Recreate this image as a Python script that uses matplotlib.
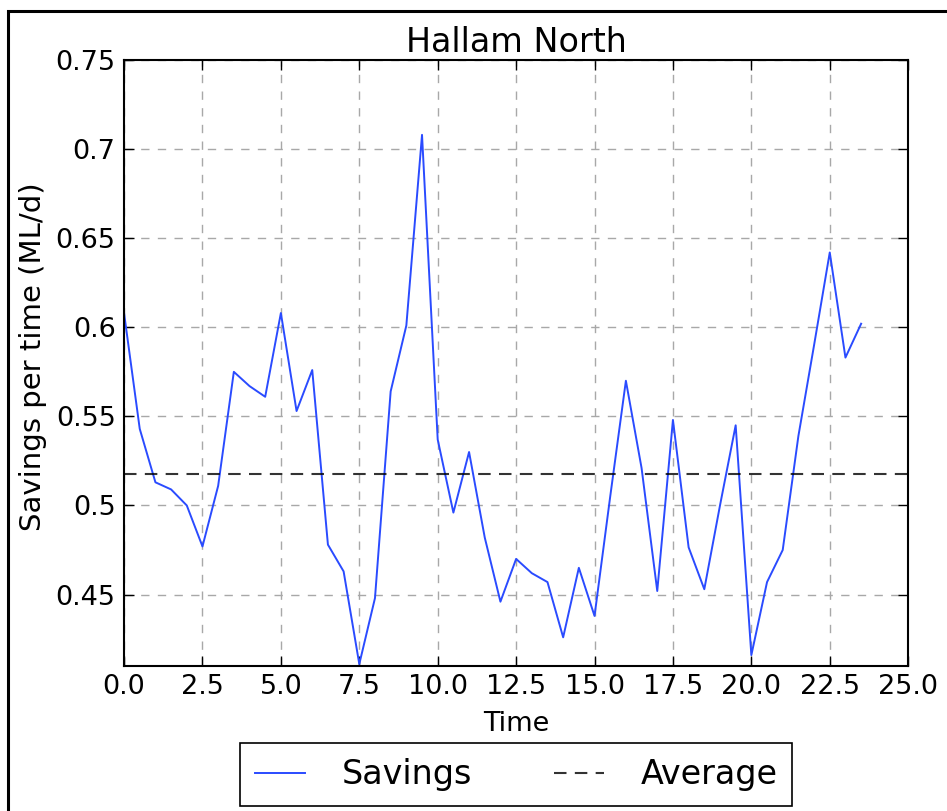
import numpy as np
import matplotlib
matplotlib.use("Agg")
import matplotlib.pyplot as plt
from matplotlib.ticker import MultipleLocator, FuncFormatter
from matplotlib.patches import Rectangle

# half-hourly savings for Hallam North
time_hours = [0.0, 0.5, 1.0, 1.5, 2.0, 2.5, 3.0, 3.5, 4.0, 4.5, 5.0, 5.5,
              6.0, 6.5, 7.0, 7.5, 8.0, 8.5, 9.0, 9.5, 10.0, 10.5, 11.0, 11.5,
              12.0, 12.5, 13.0, 13.5, 14.0, 14.5, 15.0, 15.5, 16.0, 16.5, 17.0, 17.5,
              18.0, 18.5, 19.0, 19.5, 20.0, 20.5, 21.0, 21.5, 22.0, 22.5, 23.0, 23.5]
savings = [0.608, 0.543, 0.513, 0.509, 0.500, 0.477, 0.511, 0.575, 0.567, 0.561, 0.608, 0.553,
           0.576, 0.478, 0.463, 0.411, 0.448, 0.564, 0.601, 0.708, 0.537, 0.496, 0.530, 0.482,
           0.446, 0.470, 0.462, 0.457, 0.426, 0.465, 0.438, 0.505, 0.570, 0.521, 0.452, 0.548,
           0.4765, 0.453, 0.500, 0.545, 0.416, 0.457, 0.475, 0.539, 0.590, 0.642, 0.583, 0.602]
station = "Hallam North"

average = np.mean(savings)

fig = plt.figure(figsize=(9.47, 8.11), dpi=100)
ax = fig.add_axes([0.131, 0.179, 0.828, 0.747])

ax.plot(time_hours, savings, color="#2a4bff", linewidth=1.4, label="Savings")
ax.axhline(average, color="k", linestyle="--", dashes=(6, 4), linewidth=1.5, alpha=0.8, label="Average")

ax.set_xlim(0, 25)
ax.set_ylim(0.41, 0.75)
ax.xaxis.set_major_locator(MultipleLocator(2.5))
ax.yaxis.set_major_locator(MultipleLocator(0.05))
ax.xaxis.set_major_formatter(FuncFormatter(lambda v, _: f"{v:.1f}"))
ax.yaxis.set_major_formatter(FuncFormatter(lambda v, _: f"{round(v, 4):g}"))

ax.grid(True, color="#a8a8a8", linestyle="--", dashes=(6, 6), linewidth=1.0)
ax.tick_params(direction="in", length=7, width=1, labelsize=19.5, top=True, right=True, pad=6)
for sp in ax.spines.values():
    sp.set_linewidth(1.5)

ax.set_title(station, fontsize=24, pad=6)
ax.set_xlabel("Time", fontsize=19.5, labelpad=8)
ax.set_ylabel("Savings per time (ML/d)", fontsize=21)
ax.yaxis.set_label_coords(-0.098, 0.51)

leg = ax.legend(loc="upper center", bbox_to_anchor=(0.5, -0.128), ncol=2, fontsize=24,
                fancybox=False, framealpha=1, edgecolor="k", handlelength=1.5,
                handletextpad=1.1, columnspacing=2.45, borderpad=0.45, borderaxespad=0)
leg.get_frame().set_linewidth(1.2)

# outer frame around the figure
fig.add_artist(Rectangle((8 / 947, -0.1), 1.2, 1.1 - 11 / 811, transform=fig.transFigure,
                         fill=False, edgecolor="k", linewidth=2.2))

fig.savefig("out.png", dpi=100)
